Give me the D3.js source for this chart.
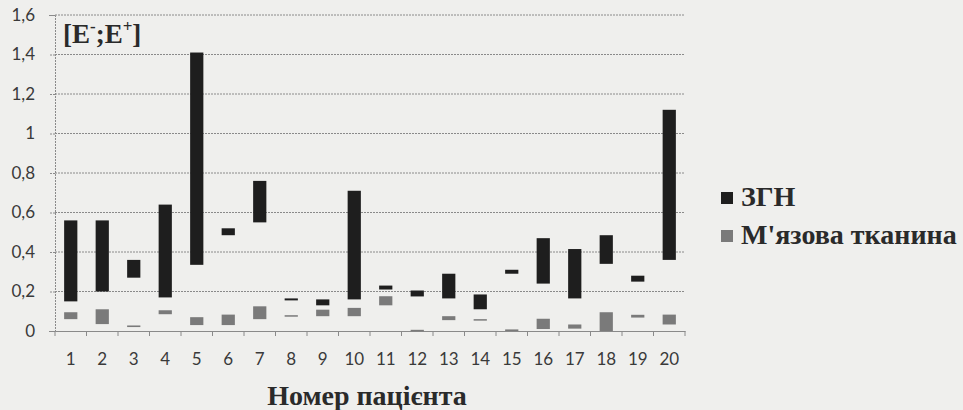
<!DOCTYPE html>
<html><head><meta charset="utf-8">
<script src="https://cdn.jsdelivr.net/npm/d3@7"></script>
<style>
html,body{margin:0;padding:0;background:#efefed;}
svg{display:block;}
</style></head>
<body>
<svg id="chart" width="963" height="410"></svg>
<script>
const patients = ["1","2","3","4","5","6","7","8","9","10","11","12","13","14","15","16","17","18","19","20"];
const zgnLow  = [0.15,0.20,0.27,0.17,0.335,0.485,0.55,0.155,0.13,0.16,0.21,0.175,0.165,0.11,0.29,0.24,0.165,0.34,0.25,0.36];
const zgnHigh = [0.56,0.56,0.36,0.64,1.41,0.52,0.76,0.165,0.16,0.71,0.23,0.205,0.29,0.185,0.31,0.47,0.415,0.485,0.28,1.12];
const musLow  = [0.06,0.035,0.02,0.085,0.03,0.03,0.06,0.075,0.075,0.075,0.13,0.0,0.055,0.055,0.0,0.01,0.012,0.0,0.068,0.033];
const musHigh = [0.095,0.11,0.028,0.105,0.07,0.083,0.125,0.08,0.108,0.117,0.176,0.006,0.075,0.06,0.008,0.062,0.033,0.095,0.082,0.083];
const yTicks = [0,0.2,0.4,0.6,0.8,1,1.2,1.4,1.6];
const seriesNames = ["ЗГН","М'язова тканина"];
const seriesColors = ["#1e1e1e","#7a7a7a"];

const SERIF = '"Liberation Serif"';
const SANS = '"Lato"';

const svg = d3.select("#chart");
const m = {left:55, right:278, top:15, bottom:79};
const W = 963, H = 410;
const x = d3.scaleBand().domain(patients).range([m.left, W - m.right]).paddingInner(0.58).paddingOuter(0.29);
const y = d3.scaleLinear().domain([0,1.6]).range([H - m.bottom, m.top]);
const fmt = v => String(v).replace(".", ",");

// gridlines
svg.append("g").selectAll("line").data(yTicks.filter(d=>d>0)).join("line")
  .attr("x1", m.left).attr("x2", W - m.right)
  .attr("y1", d=>y(d)).attr("y2", d=>y(d))
  .attr("stroke","#8a8a8a").attr("stroke-width",1).attr("stroke-dasharray","2,1");

// y axis
const yAxis = svg.append("g").attr("transform",`translate(${m.left},0)`)
  .call(d3.axisLeft(y).tickValues(yTicks).tickFormat(fmt).tickSize(6).tickPadding(14));
yAxis.attr("font-family", null);
yAxis.select(".domain").attr("stroke","#8a8a8a").attr("stroke-dasharray","2,1");
yAxis.selectAll(".tick line").attr("stroke","#8a8a8a").attr("stroke-dasharray","2,1");
yAxis.selectAll("text").style("font-family",SANS).style("font-size","17px").attr("fill","#3a3a3a");

// x axis
const xAxis = svg.append("g").attr("transform",`translate(0,${y(0)})`)
  .call(d3.axisBottom(x).tickSize(0).tickPadding(22));
xAxis.attr("font-family", null);
xAxis.select(".domain").attr("stroke","#8a8a8a");
xAxis.selectAll("text").style("font-family",SANS).style("font-size","17px").attr("fill","#3a3a3a");
// category boundary ticks
const step = x.step();
svg.append("g").selectAll("line").data(d3.range(patients.length + 1)).join("line")
  .attr("x1", i => m.left + i*step).attr("x2", i => m.left + i*step)
  .attr("y1", y(0)).attr("y2", y(0)+5)
  .attr("stroke","#8a8a8a");

// bars
const bars = svg.append("g");
bars.selectAll("rect.mus").data(patients).join("rect").attr("class","mus")
  .attr("x", d=>x(d)).attr("width", x.bandwidth())
  .attr("y", (d,i)=>y(musHigh[i])).attr("height", (d,i)=>Math.max(1.5, y(musLow[i]) - y(musHigh[i])))
  .attr("fill", seriesColors[1]);
bars.selectAll("rect.zgn").data(patients).join("rect").attr("class","zgn")
  .attr("x", d=>x(d)).attr("width", x.bandwidth())
  .attr("y", (d,i)=>y(zgnHigh[i])).attr("height", (d,i)=>Math.max(1.5, y(zgnLow[i]) - y(zgnHigh[i])))
  .attr("fill", seriesColors[0]);

// y label
const yl = svg.append("text").attr("x",63).attr("y",43)
  .style("font-family",SERIF).style("font-weight","bold").style("font-size","27px").attr("fill","#2a2a2a");
yl.append("tspan").text("[E");
yl.append("tspan").text("-").style("font-size","17px").attr("dy",-11);
yl.append("tspan").text(";E").attr("dy",11);
yl.append("tspan").text("+").style("font-size","17px").attr("dy",-11);
yl.append("tspan").text("]").attr("dy",11);

// x title
svg.append("text").attr("x",367).attr("y",405).attr("text-anchor","middle")
  .style("font-family",SERIF).style("font-weight","bold").style("font-size","28px")
  .attr("fill","#2a2a2a").text("Номер пацієнта");

// legend
const leg = svg.append("g").selectAll("g").data(seriesNames).join("g")
  .attr("transform",(d,i)=>`translate(721,${192 + i*38})`);
leg.append("rect").attr("width",12).attr("height",12).attr("fill",(d,i)=>seriesColors[i]);
leg.append("text").attr("x",20).attr("y",14).text(d=>d)
  .style("font-family",SERIF).style("font-weight","bold").style("font-size","28px")
  .attr("fill","#2a2a2a");
</script>
</body></html>
